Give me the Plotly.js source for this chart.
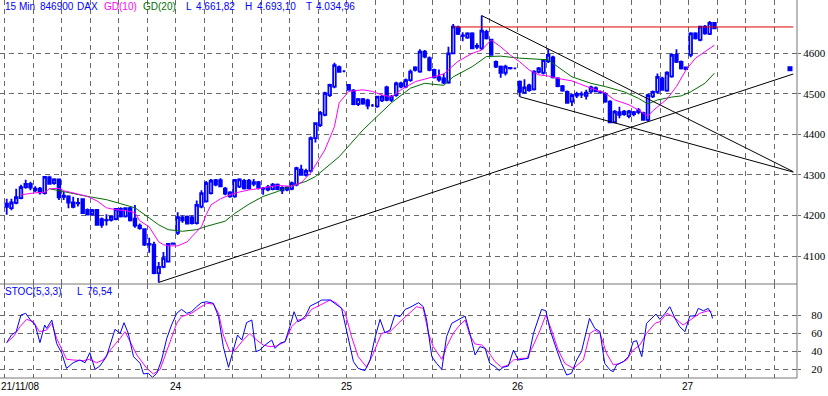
<!DOCTYPE html>
<html><head><meta charset="utf-8">
<script src="https://cdn.plot.ly/plotly-3.0.1.min.js"></script>
<style>html,body{margin:0;padding:0;background:#fff;}#chart{width:828px;height:396px;}</style>
</head><body><div id="chart"></div>
<script>
// ---- OHLC, 15-minute bars (bar index = position in arrays) ----
const opens = [
4229,4218,4231,4243,4270,4278,4262,4266,4255,4294,4280,4289,4246,4247,4232,4230,4240,4214,4203,4214,
4191,4188,4189,4191,4216,4198,4218,4192,4175,4166,4130,4128,4058,4073,4086,4130,
4157,4188,4197,4195,4181,4222,4235,4255,4287,4287,4266,4247,4247,4271,4285,4286,4278,4282,4266,4264,
4265,4276,4262,4264,4266,4276,4313,4300,4310,4391,4423,4448,4497,4518,4566,4556,
4522,4508,4475,4487,4484,4471,4469,4484,4516,4485,4497,4526,4518,4534,4559,4555,4604,4588,4559,4541,
4538,4528,4600,4664,4644,4639,4649,4616,4612,4653,4634,4579,4567,4552,4564,4563,
4530,4503,4521,4511,4554,4552,4580,4590,4538,4519,4505,4481,4496,4498,4495,4506,4514,4504,4500,4481,
4430,4448,4456,4445,4450,4455,4453,4436,4494,4505,4538,4508,4543,4596,4579,4565,
4596,4649,4633,4666,4648,4675];
const highs = [
4241,4241,4266,4276,4288,4283,4272,4270,4297,4298,4292,4291,4258,4250,4246,4243,4242,4217,4216,4216,
4195,4203,4200,4218,4220,4220,4221,4226,4180,4168,4145,4135,4085,4110,4131,4132,
4208,4200,4200,4200,4237,4262,4285,4290,4290,4292,4270,4260,4290,4292,4290,4290,4290,4285,4270,4275,
4280,4279,4272,4272,4284,4320,4325,4315,4395,4430,4458,4505,4525,4577,4570,4558,
4524,4512,4490,4490,4488,4475,4495,4497,4520,4497,4530,4530,4538,4560,4568,4610,4608,4592,4562,4560,
4550,4616,4672,4668,4652,4652,4652,4625,4693,4658,4636,4582,4570,4572,4566,4565,
4533,4536,4525,4558,4566,4586,4610,4594,4541,4522,4508,4500,4505,4506,4510,4520,4518,4508,4504,4484,
4460,4468,4460,4460,4458,4465,4456,4500,4508,4550,4542,4556,4600,4610,4582,4567,
4652,4652,4668,4670,4680,4677];
const lows = [
4202,4213,4228,4240,4266,4262,4258,4252,4252,4276,4276,4238,4238,4218,4218,4222,4204,4200,4200,4175,
4170,4175,4185,4188,4195,4195,4185,4170,4165,4125,4108,4055,4035,4070,4084,4128,
4152,4182,4178,4178,4178,4218,4232,4252,4272,4270,4250,4244,4244,4268,4264,4264,4272,4264,4251,4260,
4262,4262,4253,4260,4262,4272,4298,4296,4306,4380,4418,4445,4492,4514,4552,4553,
4508,4472,4470,4473,4462,4468,4466,4480,4482,4480,4493,4514,4514,4530,4555,4552,4588,4556,4538,4530,
4524,4525,4598,4645,4630,4636,4610,4610,4608,4634,4594,4564,4540,4545,4560,4561,
4493,4500,4505,4508,4550,4548,4576,4538,4516,4505,4476,4470,4490,4490,4486,4500,4504,4500,4478,4428,
4428,4440,4446,4440,4445,4450,4434,4432,4490,4500,4508,4505,4540,4576,4560,4559,
4590,4634,4630,4646,4645,4660];
const closes = [
4221,4232,4245,4270,4278,4269,4266,4257,4295,4278,4289,4245,4249,4232,4221,4231,4206,4202,4213,4177,
4177,4189,4197,4216,4198,4218,4188,4175,4169,4128,4128,4058,4073,4095,4130,4131,
4196,4195,4180,4181,4226,4255,4280,4286,4276,4272,4254,4257,4288,4289,4267,4267,4282,4268,4267,4270,
4276,4265,4268,4269,4280,4317,4300,4310,4391,4428,4453,4502,4522,4571,4554,4556,
4510,4475,4487,4476,4471,4471,4493,4493,4485,4493,4526,4518,4534,4555,4565,4604,4592,4559,4541,4535,
4528,4600,4666,4648,4643,4649,4612,4618,4656,4637,4596,4567,4552,4567,4563,4563,
4505,4516,4509,4555,4563,4583,4596,4541,4519,4508,4478,4497,4500,4499,4503,4516,4506,4503,4481,4430,
4456,4455,4450,4457,4455,4460,4436,4497,4505,4542,4510,4552,4596,4579,4563,4561,
4649,4637,4666,4649,4675,4661.82];

// ---- moving averages (bar, value) ----
const gd10Bars = [3,6,8,9,11,12,15,17,19,21,23,25,27,28,30,31,32,33,34,36,38,39,41,42,43,45,47,49,51,54,57,60,62,64,67,69,70,72,75,77,79,81,83,86,89,92,95,98,100,102,104,106,108,110,112,114,116,119,123,126,128,131,133,135,136,139,141,143,145,147,149];
const gd10Vals = [4251,4256,4257,4266,4267,4261,4253,4247,4236,4219,4214,4212,4207,4187,4172,4153,4135,4128,4125,4125,4135,4148,4172,4202,4226,4241,4251,4258,4263,4268,4274,4272,4281,4305,4362,4419,4478,4506,4510,4506,4497,4493,4510,4530,4539,4549,4580,4600,4608,4633,4616,4596,4579,4559,4547,4544,4538,4532,4514,4502,4485,4473,4460,4445,4458,4487,4518,4559,4588,4604,4620];
const gd20Bars = [9,13,17,21,25,27,30,32,34,37,40,42,46,48,51,54,57,60,63,65,70,75,81,85,88,92,94,98,101,104,108,112,114,116,119,123,126,130,133,135,137,140,142,144,147,149];
const gd20Vals = [4266,4256,4247,4239,4226,4219,4194,4177,4165,4161,4165,4173,4186,4205,4228,4247,4259,4273,4284,4296,4345,4411,4478,4514,4526,4521,4542,4567,4592,4593,4588,4585,4584,4567,4542,4526,4518,4505,4489,4475,4485,4492,4495,4505,4526,4551];

// ---- stochastic (5,3,3) ----
const kBars = [0,1,2,3,4,5,6,7,8,8.4,9.5,10.5,11.6,12.6,14,15.4,16.5,17.5,18.6,19.6,21,22.8,23.9,24.7,25.6,26.7,28.1,28.8,29.8,30.7,31.6,32.6,33.7,34.7,35.8,36.8,37.9,38.9,40,41,42.1,43.5,44.6,45.6,46.7,47.7,48.6,49.5,50.5,51.6,52.5,53.3,54.4,55.8,56.5,57.5,58.6,59.6,60.5,61.3,62.1,63,63.9,65.3,66.3,68.1,69.5,70.5,71.6,73,74,75.4,76.5,77.5,78.6,79.6,80.7,81.7,82.8,83.9,84.9,86.7,87.7,88.4,89.5,90.5,91.6,92.6,93.7,95.1,96.5,97.5,98.6,99.6,100.7,101.7,102.8,103.7,104.5,105.6,106.7,107.7,109.1,109.8,110.9,111.9,112.6,113.5,114.4,115.8,116.8,117.9,118.9,120,121,122.7,123.8,124.9,125.9,127,127.7,128.4,129.8,130.9,131.9,132.6,133.7,134.7,135.8,136.7,137.5,138.6,139.6,140.7,141.7,142.8,143.8,144.9,145.6,146.7,147.7,148.3,148.6];
const kVals = [49.6,58.1,61.8,80.3,82.2,74.8,69.2,49.6,69.2,65.5,74.8,48.8,37.7,21,27.3,30.3,27.3,38.5,19.9,23.6,34,64.4,59.9,71.8,59.9,34,26.6,14.8,15.5,11.1,15.5,30.3,54.4,69.2,82.2,86.6,82.2,84,89.6,94,95.1,93.3,78.5,45.1,22.2,41.4,58.1,52.5,71.8,74.8,39.6,41.4,47,52.5,43.3,48.8,50.7,67.3,84,72.9,74.8,80.3,90.3,94,97,97,91.4,87.7,61.8,28.5,21,18.5,30.3,54.4,75.5,60.7,63.6,80.3,78.5,86.6,88.8,94,89.6,74.8,34,26.6,19.9,56.2,71.1,75.5,79.2,59.9,35.9,45.1,43.3,26.6,22.9,18.5,22.2,23.6,41.4,30.3,31.1,32.2,59.9,74.8,86.6,85.1,63.6,41.4,26.6,13.6,15.5,30.3,39.6,76.6,65.5,61.8,26.6,19.2,17.3,24.8,28.5,34,50.7,51.8,34,71.1,76.6,81.4,75.5,82.2,89.6,76.6,67.3,61.8,79.2,79.2,87.7,85.1,87.7,82.2,76.54];
const dBars = [0,1.4,2.8,4.2,5.6,6.9,8.4,9.5,10.5,11.6,12.6,14,16.1,17.5,18.9,20.3,22.1,23.9,24.9,26,27.4,29.5,30.9,32.3,34,35.8,36.8,38.9,40.7,42.1,43.5,44.6,45.6,47,48.1,49.8,51.2,52.6,54,55.4,56.8,58.6,60,61.4,62.8,64.2,66,68.1,69.5,71.2,72.6,74,75.8,77.2,78.9,80.7,82.8,84.9,86.3,87.7,88.8,89.8,91.6,92.6,94,95.1,96.5,97.5,98.6,100,101.4,102.8,104.2,105.6,106.7,108.4,109.5,110.9,112.3,113.5,114.7,116.1,117.5,119.3,121.4,122.8,123.8,124.9,126.3,127.7,129.1,130.5,131.9,133.3,134.7,136.5,137.5,139,140.3,142.4,143.8,145.9,147.7,148.4];
const dVals = [49.6,56.2,67.3,75.5,72.9,61.8,63.6,71.1,54.4,41.4,31.1,30.3,29.6,31.1,27.3,30.3,43.3,54.4,61.8,50.7,35.9,21,14.8,19.9,45.1,71.1,78.5,82.2,88.8,93.3,92.5,82.2,58.1,39.6,41.4,52.5,59.9,52.5,47,45.1,45.9,50.7,67.3,74.8,76.6,86.6,91.4,97,93.3,84,56.2,34,22.2,37.7,59.9,61.8,72.9,83,89.6,87.7,59.9,45.1,31.1,45.1,59.9,67.3,74.8,58.1,48.1,47,39.6,28.5,22.2,24.8,30.3,32.2,32.2,47,63.6,80.3,63.6,41.4,26.6,21,30.3,59.9,63.6,59.9,37.7,24.8,26.6,30.3,41.4,47,59.9,71.1,72.9,82.2,78.5,69.2,74.8,82.2,85.1,84];

// ---- drawn lines (bar, price pairs) ----
const trendUpBars = [32, 165.6], trendUpVals = [4035, 4549];
const trendDownBars = [100, 165.6], trendDownVals = [4693.1, 4308];
const channelLowBars = [108, 165.6], channelLowVals = [4493, 4307];
const resistBars = [94, 165.6], resistVals = [4665, 4665];
const alertBars = [164.9], alertVals = [4562];

// ---- tick labels ----
const priceTicks = [4100, 4200, 4300, 4400, 4500, 4600];
const stochTicks = [20, 40, 60, 80];
const dayLabels = ['24', '25', '26', '27'];
const dayPx = [176, 347, 518, 688];
const firstDateLabel = '21/11/08';
const header = [['15 Min',4,'#0000ff'],['846900',39,'#0000ff'],['DAX',76,'#0000ff'],['GD(10)',103,'#ff00ff'],['GD(20)',142,'#006e00'],
  ['L',185,'#0000ff'],['4.661,82',195,'#0000ff'],['H',244,'#0000ff'],['4.693,10',256,'#0000ff'],['T',305,'#0000ff'],['4.034,96',315,'#0000ff']];
const stochHeader = [['STOC(5,3,3)',4,'#0000ff'],['L',76,'#0000ff'],['76,54',86,'#0000ff']];

// ---- geometry ----
const PW = 797, PH = 378, SPLIT = 284;
const pxPerBar = 4.75, bar0Px = 6.7;
const xRange = [-bar0Px / pxPerBar, (PW - bar0Px) / pxPerBar];
const splitY = (PH - SPLIT) / PH;
const BLUE = '#0000ff', MAG = '#ff00ff', GREEN = '#006e00', GRID = '#6a6a6a';
const TXT = 'Liberation Sans, Arial, sans-serif';

const barX = opens.map((_, i) => i);

const traces = [
  {type:'candlestick', x:barX, open:opens, high:highs, low:lows, close:closes, xaxis:'x', yaxis:'y',
   whiskerwidth:0, hoverinfo:'skip',
   increasing:{line:{color:BLUE, width:1.8}, fillcolor:'#ffffff'},
   decreasing:{line:{color:BLUE, width:1.8}, fillcolor:BLUE}},
  {type:'scatter', mode:'lines', x:gd20Bars, y:gd20Vals, line:{color:GREEN, width:1}, xaxis:'x', yaxis:'y', hoverinfo:'skip'},
  {type:'scatter', mode:'lines', x:gd10Bars, y:gd10Vals, line:{color:MAG, width:1}, xaxis:'x', yaxis:'y', hoverinfo:'skip'},
  {type:'scatter', mode:'lines', x:trendUpBars, y:trendUpVals, line:{color:'#000', width:1}, xaxis:'x', yaxis:'y', hoverinfo:'skip'},
  {type:'scatter', mode:'lines', x:trendDownBars, y:trendDownVals, line:{color:'#000', width:1}, xaxis:'x', yaxis:'y', hoverinfo:'skip'},
  {type:'scatter', mode:'lines', x:channelLowBars, y:channelLowVals, line:{color:'#000', width:1}, xaxis:'x', yaxis:'y', hoverinfo:'skip'},
  {type:'scatter', mode:'lines', x:resistBars, y:resistVals, line:{color:'#dd0000', width:1}, xaxis:'x', yaxis:'y', hoverinfo:'skip'},
  {type:'scatter', mode:'markers', x:alertBars, y:alertVals, marker:{symbol:'square', size:5, color:BLUE}, xaxis:'x', yaxis:'y', hoverinfo:'skip'},
  {type:'scatter', mode:'lines', x:dBars, y:dVals, line:{color:MAG, width:1}, xaxis:'x2', yaxis:'y2', hoverinfo:'skip'},
  {type:'scatter', mode:'lines', x:kBars, y:kVals, line:{color:BLUE, width:1}, xaxis:'x2', yaxis:'y2', hoverinfo:'skip'}
];

const xCommon = {range:xRange, showticklabels:false, ticks:'', tick0:-0.36, dtick:6, showgrid:true,
  gridcolor:GRID, gridwidth:1, griddash:'5px,4px', zeroline:false, showline:false, fixedrange:true};
const yCommon = {side:'right', showgrid:true, gridcolor:GRID, gridwidth:1, griddash:'5px,4px', zeroline:false,
  showline:false, ticks:'outside', ticklen:3, tickcolor:GRID, fixedrange:true,
  tickfont:{family:'Liberation Serif, Times New Roman, serif', size:11, color:'#000'}};

const annotations = [];
const yPaper = py => 1 - py / PH;
header.forEach(([t, px, c]) => annotations.push({text:t, xref:'paper', yref:'paper', x:px/PW, y:yPaper(7),
  xanchor:'left', yanchor:'middle', showarrow:false, borderpad:0, font:{family:TXT, size:10, color:c}}));
stochHeader.forEach(([t, px, c]) => annotations.push({text:t, xref:'paper', yref:'paper', x:px/PW, y:yPaper(291),
  xanchor:'left', yanchor:'middle', showarrow:false, borderpad:0, font:{family:TXT, size:10, color:c}}));
annotations.push({text:firstDateLabel, xref:'paper', yref:'paper', x:0, y:yPaper(387), xanchor:'left', yanchor:'middle',
  showarrow:false, borderpad:0, font:{family:TXT, size:10, color:'#000'}});
dayLabels.forEach((t, i) => annotations.push({text:t, xref:'paper', yref:'paper', x:dayPx[i]/PW, y:yPaper(387),
  xanchor:'center', yanchor:'middle', showarrow:false, borderpad:0, font:{family:TXT, size:10, color:'#000'}}));

const FRAME = '#777777';
const shapes = [
  {type:'line', xref:'paper', yref:'paper', x0:0, x1:1, y0:splitY, y1:splitY, line:{color:FRAME, width:1}, layer:'above'},
  {type:'line', xref:'paper', yref:'paper', x0:0, x1:1, y0:0, y1:0, line:{color:FRAME, width:1}, layer:'above'},
  {type:'line', xref:'paper', yref:'paper', x0:1, x1:1, y0:0, y1:1, line:{color:FRAME, width:1}, layer:'above'}
];

const layout = {
  width:828, height:396, margin:{l:0, r:828-PW, t:0, b:396-PH}, paper_bgcolor:'#fff', plot_bgcolor:'#fff',
  showlegend:false, boxgap:0.22,
  xaxis:Object.assign({}, xCommon, {domain:[0,1], anchor:'y', rangeslider:{visible:false}}),
  xaxis2:Object.assign({}, xCommon, {domain:[0,1], anchor:'y2', matches:'x'}),
  yaxis:Object.assign({}, yCommon, {domain:[splitY,1], anchor:'x', range:[4031, 4731.5], tickvals:priceTicks, ticktext:priceTicks.map(String)}),
  yaxis2:Object.assign({}, yCommon, {domain:[0,splitY], anchor:'x2', range:[10.3, 114.8], tickvals:stochTicks, ticktext:stochTicks.map(String), ticklabelstandoff:8}),
  annotations:annotations, shapes:shapes
};

Plotly.newPlot('chart', traces, layout, {staticPlot:true, displayModeBar:false});
</script></body></html>
